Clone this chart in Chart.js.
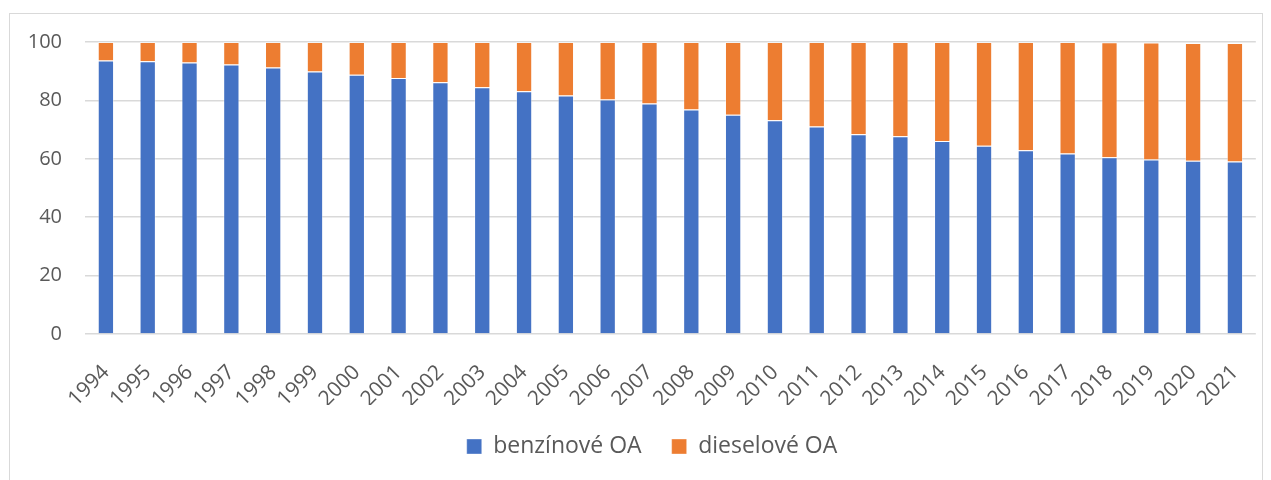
<!DOCTYPE html>
<html>
<head>
<meta charset="utf-8">
<script src="https://cdn.jsdelivr.net/npm/chart.js@4"></script>
<style>
    body { margin: 0; background: #fff; }
    #frame {
        position: absolute; left: 9px; top: 13px;
        width: 1252px; height: 480px;
        border: 1px solid #d9d9d9;
    }
    #wrap { position: absolute; left: 0; top: 0; width: 1271px; height: 480px; }
</style>
</head>
<body>
<div id="frame"></div>
<div id="wrap"><canvas id="graf"></canvas></div>
<script>
// roky
const roky = ["1994", "1995", "1996", "1997", "1998", "1999", "2000", "2001", "2002", "2003",
    "2004", "2005", "2006", "2007", "2008", "2009", "2010", "2011", "2012", "2013",
    "2014", "2015", "2016", "2017", "2018", "2019", "2020", "2021"];

// podíl v %
const benzinove = [93.7, 93.4, 93.0, 92.3, 91.3, 89.9, 88.8, 87.7, 86.2, 84.5,
    83.1, 81.7, 80.3, 78.9, 76.9, 75.1, 73.2, 71.1, 68.4, 67.7,
    66.1, 64.5, 62.9, 61.8, 60.5, 59.8, 59.3, 59.1];
const dieselove = [6.3, 6.6, 7.0, 7.7, 8.7, 10.1, 11.2, 12.3, 13.8, 15.5,
    16.9, 18.3, 19.7, 21.1, 23.1, 24.9, 26.8, 28.9, 31.6, 32.3,
    33.9, 35.5, 37.1, 38.2, 39.4, 40.0, 40.4, 40.6];

const yTicks = [0, 20, 40, 60, 80, 100];

const textColor = "#595959";
const font = "'Open Sans', Lato, sans-serif";

// legenda je v originale trochu vpravo od stredu
const posunLegendy = {
    id: "posunLegendy",
    afterLayout(chart) {
        chart.legend.left += 14;
        chart.legend.right += 14;
    },
};

new Chart(document.getElementById("graf"), {
    type: "bar",
    data: {
        labels: roky,
        datasets: [
            {
                label: "benzínové OA",
                data: benzinove,
                backgroundColor: "#4472C4",
                borderColor: "rgba(255,255,255,0.35)",
                borderWidth: 1,
                categoryPercentage: 1,
                barPercentage: 0.39,
            },
            {
                label: "dieselové OA",
                data: dieselove,
                backgroundColor: "#ED7D31",
                borderColor: "rgba(255,255,255,0.35)",
                borderWidth: 1,
                categoryPercentage: 1,
                barPercentage: 0.39,
            },
        ],
    },
    plugins: [posunLegendy],
    options: {
        responsive: true,
        maintainAspectRatio: false,
        animation: false,
        layout: { padding: { top: 42, right: 15, bottom: 12, left: 20 } },
        plugins: {
            tooltip: { enabled: false },
            legend: {
                position: "bottom",
                labels: {
                    color: textColor,
                    font: { family: font, size: 23 },
                    boxWidth: 15,
                    boxHeight: 15,
                    padding: 30,
                },
            },
        },
        scales: {
            x: {
                stacked: true,
                grid: { display: false },
                border: { display: false },
                ticks: {
                    color: textColor,
                    font: { family: font, size: 21 },
                    minRotation: 45,
                    maxRotation: 45,
                    padding: 18,
                    autoSkip: false,
                },
                afterFit: (scale) => { scale.height = 71; },
            },
            y: {
                stacked: true,
                min: 0,
                max: 100,
                afterBuildTicks: (scale) => { scale.ticks = yTicks.map((v) => ({ value: v })); },
                grid: { color: "#d9d9d9", lineWidth: 1.5, drawTicks: false },
                border: { display: false },
                ticks: {
                    color: textColor,
                    font: { family: font, size: 20 },
                    padding: 23,
                },
                afterFit: (scale) => { scale.width = 65; },
            },
        },
    },
});
</script>
</body>
</html>
